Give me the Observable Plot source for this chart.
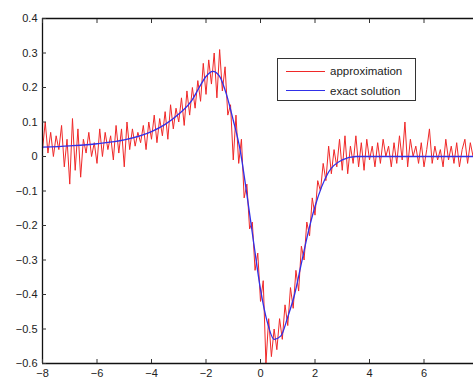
<!DOCTYPE html>
<html><head><meta charset="utf-8">
<script src="https://cdn.jsdelivr.net/npm/d3@7"></script>
<script src="https://cdn.jsdelivr.net/npm/@observablehq/plot@0.6"></script>
<style>
body{margin:0;background:#fff;}
#wrap{position:relative;width:473px;height:378px;overflow:hidden;font-family:"Liberation Sans",Arial,sans-serif;}
#legend{position:absolute;left:277px;top:58px;width:139px;height:43px;border:1px solid #333;background:#fff;box-sizing:border-box;font-size:11.5px;color:#222;}
.row{position:absolute;left:8px;display:flex;align-items:center;height:14px;}
.sw{width:39px;height:0;border-top:1px solid;margin-right:5px;}
</style></head><body><div id="wrap"></div>
<script>
// exact solution
const exactX = [-8,-7,-6,-5,-4,-3.5,-3,-2.5,-2.25,-2,-1.75,-1.5,-1.25,-1,-0.75,-0.5,-0.25,0,0.25,0.5,0.75,1,1.25,1.5,1.75,2,2.5,3,3.5,4,5,6,7,8];
const exactY = [0.027,0.031,0.037,0.048,0.072,0.093,0.123,0.165,0.200,0.232,0.247,0.232,0.18,0.105,0.02,-0.11,-0.25,-0.385,-0.48,-0.53,-0.52,-0.465,-0.40,-0.31,-0.22,-0.145,-0.045,-0.01,0.0,0.0,0.0,0.0,0.0,0.0];
// approximation, sampled every 0.1 from -8 to 8
const approxStart = -8, approxStep = 0.1;
const approxY = [
 0.02,0.10,0.01,0.07,0.00,0.06,0.02,0.09,-0.03,0.05,
 -0.08,0.11,-0.04,0.08,-0.06,0.05,0.01,0.07,0.00,0.04,
 -0.02,0.08,0.00,0.07,0.02,0.06,-0.01,0.09,0.01,0.08,
 -0.03,0.10,0.02,0.08,0.03,0.07,0.04,0.09,0.02,0.10,
 0.05,0.12,0.04,0.11,0.06,0.13,0.05,0.15,0.08,0.14,
 0.10,0.17,0.09,0.19,0.12,0.20,0.14,0.22,0.16,0.27,
 0.18,0.28,0.21,0.30,0.17,0.31,0.19,0.26,0.12,0.15,
 -0.01,0.12,-0.02,0.05,-0.12,-0.08,-0.21,-0.19,-0.33,-0.28,
 -0.42,-0.36,-0.60,-0.47,-0.58,-0.50,-0.56,-0.47,-0.53,-0.43,
 -0.49,-0.38,-0.44,-0.33,-0.39,-0.26,-0.30,-0.19,-0.23,-0.12,
 -0.17,-0.07,-0.10,-0.02,-0.07,0.03,-0.05,0.02,-0.03,0.05,
 -0.04,0.06,-0.05,0.03,-0.02,0.06,-0.03,0.04,-0.04,0.05,
 -0.01,0.03,-0.03,0.04,-0.02,0.05,0.00,0.03,-0.03,0.04,
 -0.02,0.06,-0.01,0.10,-0.03,0.05,0.00,0.03,-0.02,0.04,
 -0.03,0.02,0.08,-0.02,0.03,-0.01,0.02,-0.03,0.05,-0.01,
 0.03,-0.02,0.04,-0.03,0.02,0.05,-0.02,0.04,0.00,0.03,
 0.01
];
const xTicks = [-8,-6,-4,-2,0,2,4,6];
const yTicks = [-0.6,-0.5,-0.4,-0.3,-0.2,-0.1,0,0.1,0.2,0.3,0.4];
const seriesNames = ["approximation","exact solution"];
const seriesColors = ["#f02828","#3030e8"];

const approx = approxY.map((y,i)=>({x: approxStart + i*approxStep, y}));
const exact = exactX.map((x,i)=>({x, y: exactY[i]}));
const fmt = d => d === 0 ? "0" : (d < 0 ? "\u2212" : "") + Math.abs(d);
const fmtY = d => d === 0 ? "0" : (d < 0 ? "\u2212" : "") + Math.abs(d).toFixed(1);

const chart = Plot.plot({
  width: 473, height: 378,
  marginLeft: 42, marginRight: 0, marginTop: 18, marginBottom: 15,
  x: {domain: [-8, 8], range: [42, 478], label: null},
  y: {domain: [-0.6, 0.4], range: [363, 18], label: null},
  style: {fontFamily: "'Liberation Sans', Arial, sans-serif", fontSize: "11px", color: "#222", background: "#fff"},
  marks: [
    Plot.line(approx, {x: "x", y: "y", stroke: seriesColors[0], strokeWidth: 1}),
    Plot.line(exact, {x: "x", y: "y", stroke: seriesColors[1], strokeWidth: 1.3, curve: "monotone-x"}),
    Plot.ruleX([-8], {stroke: "#111", strokeWidth: 1.3}),
    Plot.ruleY([-0.6, 0.4], {stroke: "#111", strokeWidth: 1.3}),
    Plot.axisX(xTicks, {anchor: "bottom", tickSize: -4, tickFormat: () => "", stroke: "#333", label: null}),
    Plot.axisX(xTicks, {anchor: "top", tickSize: -4, tickFormat: () => "", stroke: "#333", label: null}),
    Plot.axisX(xTicks, {anchor: "bottom", tickSize: 0, tickPadding: 6, tickFormat: fmt, label: null}),
    Plot.axisY(yTicks, {anchor: "left", tickSize: -4, tickFormat: () => "", stroke: "#333", label: null}),
    Plot.axisY(yTicks, {anchor: "left", tickSize: 0, tickPadding: 5, tickFormat: fmtY, label: null})
  ]
});
const wrap = document.getElementById("wrap");
wrap.appendChild(chart);
const lg = document.createElement("div");
lg.id = "legend";
lg.innerHTML = seriesNames.map((n,i)=>`<div class="row" style="top:${5+i*19.5}px"><span class="sw" style="border-color:${seriesColors[i]}"></span><span>${n}</span></div>`).join("");
wrap.appendChild(lg);
</script></body></html>
